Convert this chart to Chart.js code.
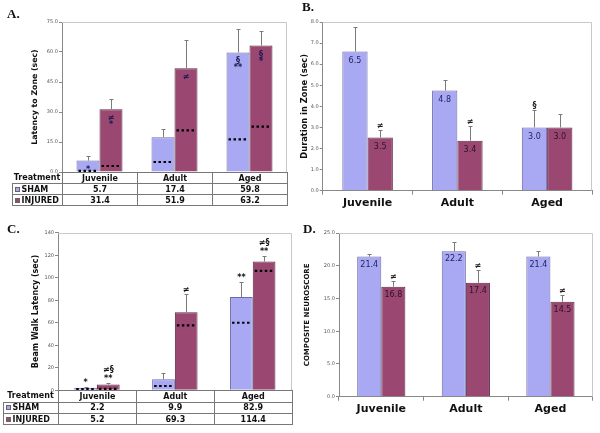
<!DOCTYPE html>
<html>
<head>
<meta charset="utf-8">
<script src="https://cdn.jsdelivr.net/npm/chart.js@4.4.1/dist/chart.umd.min.js"></script>
<style>
  body { margin: 0; background: #fff; }
  #page { position: relative; width: 600px; height: 433px; overflow: hidden; font-family: "DejaVu Sans", Verdana, sans-serif; }
  canvas { position: absolute; }
  .tag { position: absolute; font: bold 13px/13px "Liberation Serif", "Times New Roman", serif; color: #111; }
  .cell { position: absolute; box-sizing: border-box; border-color: #777; border-style: solid; border-width: 0;
          font: bold 8px "DejaVu Sans", sans-serif; color: #111; display: flex; align-items: center;
          justify-content: center; white-space: nowrap; }
  .sw { display: inline-block; box-sizing: border-box; width: 5px; height: 5px; border: 1px solid #666; margin-right: 1.5px; }
</style>
</head>
<body>
<div id="page">
  <canvas id="chartA"></canvas>
  <canvas id="chartB"></canvas>
  <canvas id="chartC"></canvas>
  <canvas id="chartD"></canvas>
  <div class="tag" style="left:7px;top:7px">A.</div>
  <div class="tag" style="left:302px;top:0px">B.</div>
  <div class="tag" style="left:7px;top:222px">C.</div>
  <div class="tag" style="left:303px;top:222px">D.</div>
</div>
<script>
const groups = ['Juvenile', 'Adult', 'Aged'];

// A. latency to zone (sec)
const zoneSham = [5.7, 17.4, 59.8];
const zoneInjured = [31.4, 51.9, 63.2];
const zoneShamErr = [8.0, 21.5, 71.6];
const zoneInjuredErr = [36.7, 65.8, 70.6];
const zoneShamDots = [0.6, 5.0, 16.3];
const zoneInjuredDots = [3.0, 20.8, 22.7];
const zoneShamMarks = ['*', '', '§\n**'];
const zoneInjuredMarks = ['≠\n*', '≠', '§\n*'];

// B. duration in zone (sec)
const durSham = [6.6, 4.75, 3.0];
const durInjured = [2.52, 2.37, 3.0];
const durShamErr = [7.77, 5.23, 3.84];
const durInjuredErr = [2.9, 3.08, 3.65];
const durShamText = ['6.5', '4.8', '3.0'];
const durInjuredText = ['3.5', '3.4', '3.0'];
const durShamMarks = ['', '', '§'];
const durInjuredMarks = ['≠', '≠', ''];

// C. beam walk latency (sec)
const beamSham = [2.2, 9.9, 82.9];
const beamInjured = [5.2, 69.3, 114.4];
const beamShamErr = [2.6, 15.4, 95.9];
const beamInjuredErr = [6.2, 85.2, 119.3];
const beamShamDots = [1.0, 3.8, 60.0];
const beamInjuredDots = [1.2, 57.7, 106.0];
const beamShamMarks = ['*', '', '**'];
const beamInjuredMarks = ['≠§\n**', '≠', '≠§\n**'];

// D. composite neuroscore
const neuroSham = [21.4, 22.2, 21.4];
const neuroInjured = [16.8, 17.4, 14.5];
const neuroShamErr = [21.8, 23.7, 22.2];
const neuroInjuredErr = [17.6, 19.3, 15.6];
const neuroInjuredMarks = ['≠', '≠', '≠'];

const SHAM_FILL = '#a9a9f3', SHAM_EDGE = '#6a6aa8';
const INJ_FILL = '#9a4772', INJ_EDGE = '#5c2944';

Chart.defaults.font.family = '"DejaVu Sans", Verdana, sans-serif';

// error bars, dotted lines, significance marks, value labels
const extras = {
  id: 'extras',
  afterDatasetsDraw(chart, args, opts) {
    const ctx = chart.ctx, ys = chart.scales.y, a = chart.chartArea;
    ctx.save();
    ctx.strokeStyle = '#c8c8c8';
    ctx.lineWidth = 1;
    ctx.beginPath();
    ctx.moveTo(a.left, Math.round(a.top) + 0.5);
    ctx.lineTo(Math.round(a.right) - 0.5, Math.round(a.top) + 0.5);
    ctx.lineTo(Math.round(a.right) - 0.5, a.bottom);
    ctx.stroke();

    chart.data.datasets.forEach((ds, i) => {
      chart.getDatasetMeta(i).data.forEach((bar, j) => {
        const half = bar.width / 2;
        if (ds.dots) {
          const dy = ys.getPixelForValue(ds.dots[j]);
          ctx.strokeStyle = '#000';
          ctx.lineWidth = 2.2;
          ctx.setLineDash([2.5, 2.5]);
          ctx.beginPath();
          ctx.moveTo(bar.x - half + 2, dy);
          ctx.lineTo(bar.x + half - 1, dy);
          ctx.stroke();
          ctx.setLineDash([]);
        }
        let ty = bar.y;
        if (ds.err) {
          ty = Math.round(ys.getPixelForValue(ds.err[j])) + 0.5;
          const x = Math.round(bar.x) + 0.5;
          ctx.strokeStyle = '#7a7a7a';
          ctx.lineWidth = 1;
          ctx.beginPath();
          ctx.moveTo(x, bar.y);
          ctx.lineTo(x, ty);
          ctx.moveTo(x - 2, ty);
          ctx.lineTo(x + 2, ty);
          ctx.stroke();
        }
        ctx.textAlign = 'center';
        ctx.textBaseline = 'middle';
        if (ds.text) {
          ctx.font = '8px "DejaVu Sans"';
          ctx.fillStyle = ds.textColor;
          ctx.fillText(ds.text[j], bar.x, bar.y + opts.textDrop);
        }
        if (ds.marks && ds.marks[j]) {
          const lines = ds.marks[j].split('\n');
          ctx.font = 'bold 8px "DejaVu Sans"';
          ctx.fillStyle = opts.markColor;
          lines.forEach((t, k) => {
            let yy;
            if (opts.markMode === 'inside') yy = bar.y + 9 + k * 7;
            else yy = ty - 5 - (lines.length - 1 - k) * 9;
            ctx.fillText(t, bar.x, yy);
          });
        }
      });
    });
    ctx.restore();
  }
};

function panel(id, box, area, o) {
  const cv = document.getElementById(id);
  cv.width = box.w; cv.height = box.h;
  cv.style.left = box.x + 'px'; cv.style.top = box.y + 'px';
  const padLeft = o.titleX - box.x - o.titleSize * 0.6;
  const yWidth = area.l - box.x - padLeft;
  const xHeight = o.showX ? 25 : 0;
  const padBottom = box.y + box.h - area.b - xHeight;
  const sets = [
    { label: 'SHAM', data: o.sham, err: o.shamErr, dots: o.shamDots, marks: o.shamMarks,
      text: o.shamText, textColor: '#1d2660', backgroundColor: SHAM_FILL, borderColor: SHAM_EDGE, borderWidth: 1 },
    { label: 'INJURED', data: o.inj, err: o.injErr, dots: o.injDots, marks: o.injMarks,
      text: o.injText, textColor: '#2a1428', backgroundColor: INJ_FILL, borderColor: INJ_EDGE, borderWidth: 1 }
  ];
  return new Chart(cv, {
    type: 'bar',
    data: { labels: groups, datasets: sets },
    options: {
      responsive: false,
      animation: false,
      devicePixelRatio: 1,
      layout: { padding: { left: padLeft, top: area.t - box.y, right: box.x + box.w - area.r, bottom: padBottom } },
      datasets: { bar: { categoryPercentage: o.cat, barPercentage: 1 } },
      plugins: {
        legend: { display: false },
        tooltip: { enabled: false },
        extras: { markMode: o.markMode, markColor: o.markColor, textDrop: o.textDrop }
      },
      scales: {
        x: {
          display: o.showX,
          grid: { offset: true, drawOnChartArea: false, tickLength: 4, color: '#888' },
          border: { color: '#888' },
          ticks: { font: { size: 11, weight: 'bold' }, color: '#111', padding: 2 },
          afterFit: s => { s.height = xHeight; }
        },
        y: {
          min: 0, max: o.max,
          ticks: { stepSize: o.step, font: { size: 5 }, color: '#555', padding: 1,
                   callback: v => o.decimals ? v.toFixed(1) : String(v) },
          grid: { drawOnChartArea: false, tickLength: 3, color: '#888' },
          border: { color: '#888' },
          title: { display: true, text: o.title, color: '#111', padding: 0,
                   font: { size: o.titleSize, weight: 'bold' } },
          afterFit: s => { s.width = yWidth; }
        }
      }
    },
    plugins: [extras]
  });
}

function table(chart, box, left, rowH, sham, inj) {
  const page = document.getElementById('page');
  const a = chart.chartArea;
  const xs = [left, box.x + a.left];
  const cw = (a.right - a.left) / groups.length;
  groups.forEach((g, i) => xs.push(box.x + a.left + cw * (i + 1)));
  const ys = [box.y + a.bottom];
  rowH.forEach(h => ys.push(ys[ys.length - 1] + h));
  const rows = [
    ['Treatment'].concat(groups),
    ['SHAM'].concat(sham.map(v => v.toFixed(1))),
    ['INJURED'].concat(inj.map(v => v.toFixed(1)))
  ];
  rows.forEach((row, r) => {
    row.forEach((txt, c) => {
      const d = document.createElement('div');
      d.className = 'cell';
      d.style.left = xs[c] + 'px';
      d.style.top = ys[r] + 'px';
      d.style.width = (xs[c + 1] - xs[c] + 1) + 'px';
      d.style.height = (ys[r + 1] - ys[r] + 1) + 'px';
      const header = r === 0 && c === 0;
      d.style.borderTopWidth = header ? '0' : '1px';
      d.style.borderLeftWidth = header ? '0' : '1px';
      d.style.borderRightWidth = '1px';
      d.style.borderBottomWidth = '1px';
      if (r > 0 && c === 0) {
        d.style.justifyContent = 'flex-start';
        d.style.paddingLeft = '2px';
        const sw = document.createElement('span');
        sw.className = 'sw';
        sw.style.background = r === 1 ? SHAM_FILL : INJ_FILL;
        d.appendChild(sw);
        d.appendChild(document.createTextNode(txt));
      } else {
        d.textContent = txt;
      }
      page.appendChild(d);
    });
  });
}

const boxA = { x: 0, y: 0, w: 300, h: 176 };
const chartA = panel('chartA', boxA, { l: 62, t: 22, r: 287, b: 172 }, {
  sham: zoneSham, inj: zoneInjured, shamErr: zoneShamErr, injErr: zoneInjuredErr,
  shamDots: zoneShamDots, injDots: zoneInjuredDots, shamMarks: zoneShamMarks, injMarks: zoneInjuredMarks,
  max: 75, step: 15, decimals: true, title: 'Latency to Zone (sec)', titleX: 35, titleSize: 7.8,
  cat: 0.613, showX: false, markMode: 'inside', markColor: '#1a1a4e'
});

const boxB = { x: 300, y: 0, w: 300, h: 216 };
panel('chartB', boxB, { l: 322.7, t: 22, r: 592, b: 190.7 }, {
  sham: durSham, inj: durInjured, shamErr: durShamErr, injErr: durInjuredErr,
  shamText: durShamText, injText: durInjuredText, shamMarks: durShamMarks, injMarks: durInjuredMarks,
  max: 8, step: 1, decimals: true, title: 'Duration in Zone (sec)', titleX: 305, titleSize: 8.3,
  cat: 0.563, showX: true, markMode: 'above', markColor: '#222', textDrop: 9
});

const boxC = { x: 0, y: 210, w: 300, h: 185 };
const chartC = panel('chartC', boxC, { l: 58, t: 232.7, r: 291.7, b: 390.3 }, {
  sham: beamSham, inj: beamInjured, shamErr: beamShamErr, injErr: beamInjuredErr,
  shamDots: beamShamDots, injDots: beamInjuredDots, shamMarks: beamShamMarks, injMarks: beamInjuredMarks,
  max: 140, step: 20, decimals: false, title: 'Beam Walk Latency (sec)', titleX: 35.5, titleSize: 8,
  cat: 0.583, showX: false, markMode: 'above', markColor: '#111'
});

const boxD = { x: 300, y: 210, w: 300, h: 223 };
panel('chartD', boxD, { l: 339, t: 233, r: 592.7, b: 396.7 }, {
  sham: neuroSham, inj: neuroInjured, shamErr: neuroShamErr, injErr: neuroInjuredErr,
  shamText: neuroSham.map(v => v.toFixed(1)), injText: neuroInjured.map(v => v.toFixed(1)), injMarks: neuroInjuredMarks,
  max: 25, step: 5, decimals: true, title: 'COMPOSITE NEUROSCORE', titleX: 307, titleSize: 7,
  cat: 0.57, showX: true, markMode: 'above', markColor: '#222', textDrop: 8
});

table(chartA, boxA, 12, [11, 11.3, 11], zoneSham, zoneInjured);
table(chartC, boxC, 3, [11.4, 11.6, 11], beamSham, beamInjured);
</script>
</body>
</html>
